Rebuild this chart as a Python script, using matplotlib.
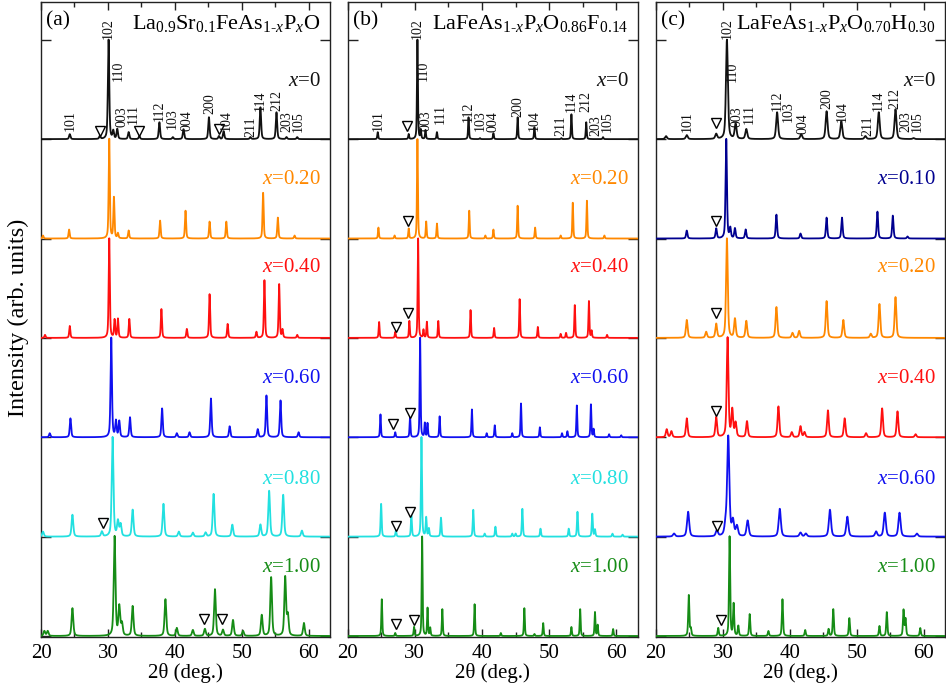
import numpy as np
import matplotlib
matplotlib.use("Agg")
import matplotlib.pyplot as plt
from matplotlib.ticker import MultipleLocator

plt.rcParams['font.family'] = 'serif'
plt.rcParams['font.serif'] = ['Liberation Serif', 'DejaVu Serif']
plt.rcParams['mathtext.fontset'] = 'custom'
plt.rcParams['mathtext.rm'] = 'Liberation Serif'
plt.rcParams['mathtext.it'] = 'Liberation Serif:italic'
plt.rcParams['mathtext.bf'] = 'Liberation Serif:bold'

# ---------------- data ----------------
# Panel (a) La0.9Sr0.1FeAs1-xPxO
a_comps = ['0', '0.20', '0.40', '0.60', '0.80', '1.00']
a_x000_pos = [24.3, 28.8, 30.1, 30.8, 31.4, 33.1, 34.7, 37.7, 39.7, 41.3, 45.1, 46.6, 47.3, 51.3, 52.8, 55.2, 56.7, 58.3]
a_x000_int = [0.05, 0.03, 1.00, 0.08, 0.10, 0.07, 0.03, 0.17, 0.02, 0.10, 0.22, 0.03, 0.08, 0.02, 0.32, 0.27, 0.02, 0.02]
a_x020_pos = [20.3, 24.2, 30.2, 30.9, 31.5, 33.1, 37.8, 41.6, 45.2, 47.7, 53.2, 55.4, 57.9]
a_x020_int = [0.03, 0.09, 1.00, 0.41, 0.05, 0.08, 0.18, 0.28, 0.17, 0.17, 0.46, 0.21, 0.03]
a_x040_pos = [20.6, 24.3, 30.2, 31.0, 31.5, 33.2, 38.0, 41.8, 45.2, 47.9, 52.2, 53.4, 55.6, 56.1, 58.3]
a_x040_int = [0.03, 0.12, 1.00, 0.18, 0.19, 0.19, 0.29, 0.09, 0.44, 0.14, 0.06, 0.58, 0.54, 0.08, 0.03]
a_x060_pos = [21.3, 24.4, 30.5, 31.2, 31.7, 33.3, 38.1, 40.3, 42.2, 45.4, 48.2, 52.4, 53.7, 55.8, 58.5]
a_x060_int = [0.04, 0.19, 1.00, 0.16, 0.16, 0.20, 0.29, 0.04, 0.05, 0.39, 0.11, 0.08, 0.42, 0.37, 0.05]
a_x080_pos = [20.3, 24.7, 29.1, 30.7, 31.5, 31.9, 33.7, 38.3, 40.6, 42.7, 44.6, 45.8, 48.6, 52.8, 54.1, 56.2, 59.0]
a_x080_int = [0.05, 0.22, 0.05, 1.00, 0.15, 0.12, 0.27, 0.33, 0.05, 0.04, 0.04, 0.43, 0.12, 0.12, 0.46, 0.42, 0.06]
a_x100_pos = [20.5, 21.0, 24.7, 31.0, 31.7, 32.1, 33.7, 38.6, 40.3, 42.7, 44.5, 46.0, 47.2, 48.7, 50.2, 53.0, 54.4, 56.5, 56.9, 59.3]
a_x100_int = [0.05, 0.05, 0.28, 1.00, 0.29, 0.12, 0.30, 0.37, 0.08, 0.06, 0.07, 0.47, 0.06, 0.16, 0.05, 0.21, 0.59, 0.59, 0.20, 0.13]
a_hwhm = [0.12, 0.10, 0.10, 0.12, 0.15, 0.15]
a_imp_x = [[28.8, 34.7, 46.6], [], [], [], [29.2], [44.3, 47.1]]
a_imp_y = [[0.08, 0.08, 0.10], [], [], [], [0.14], [0.17, 0.17]]

# Panel (b) LaFeAs1-xPxO0.86F0.14
b_comps = ['0', '0.20', '0.40', '0.60', '0.80', '1.00']
b_x000_pos = [24.5, 29.1, 30.4, 30.9, 31.6, 33.3, 38.0, 39.7, 41.7, 45.3, 47.8, 51.8, 53.3, 55.5, 58.0]
b_x000_int = [0.07, 0.05, 1.00, 0.09, 0.09, 0.07, 0.22, 0.01, 0.06, 0.22, 0.12, 0.01, 0.25, 0.17, 0.02]
b_x020_pos = [24.6, 27.0, 29.1, 30.4, 31.7, 33.3, 38.1, 40.5, 41.7, 45.3, 47.9, 51.7, 53.5, 55.6, 58.2]
b_x020_int = [0.11, 0.03, 0.10, 1.00, 0.17, 0.15, 0.28, 0.03, 0.09, 0.33, 0.11, 0.03, 0.36, 0.38, 0.03]
b_x040_pos = [24.7, 27.1, 29.2, 30.5, 31.3, 31.8, 33.5, 38.3, 41.8, 45.6, 48.3, 51.7, 52.5, 53.8, 55.9, 56.3, 58.6]
b_x040_int = [0.16, 0.06, 0.17, 1.00, 0.08, 0.16, 0.17, 0.28, 0.10, 0.39, 0.11, 0.04, 0.05, 0.33, 0.37, 0.07, 0.03]
b_x060_pos = [24.9, 27.1, 29.3, 30.8, 31.5, 31.9, 33.7, 38.5, 40.7, 41.9, 44.5, 45.8, 48.6, 51.9, 52.7, 54.1, 56.2, 56.6, 58.9, 60.7]
b_x060_int = [0.23, 0.05, 0.21, 1.00, 0.14, 0.14, 0.21, 0.28, 0.04, 0.12, 0.04, 0.34, 0.10, 0.04, 0.06, 0.32, 0.33, 0.08, 0.03, 0.02]
b_x080_pos = [25.0, 27.2, 29.5, 31.0, 31.7, 32.1, 33.9, 38.7, 40.4, 42.0, 44.5, 45.0, 46.0, 48.7, 52.9, 54.2, 56.4, 56.8, 59.4, 60.9]
b_x080_int = [0.33, 0.06, 0.21, 1.00, 0.19, 0.08, 0.19, 0.27, 0.03, 0.10, 0.03, 0.03, 0.28, 0.08, 0.08, 0.25, 0.23, 0.07, 0.03, 0.02]
b_x100_pos = [25.1, 27.1, 29.9, 31.1, 31.9, 32.3, 34.1, 38.9, 42.8, 46.3, 47.8, 49.1, 53.3, 54.6, 56.8, 57.2, 59.5]
b_x100_int = [0.37, 0.03, 0.09, 1.00, 0.28, 0.08, 0.27, 0.32, 0.03, 0.28, 0.02, 0.13, 0.09, 0.27, 0.24, 0.11, 0.07]
b_hwhm = [0.08, 0.08, 0.08, 0.08, 0.09, 0.08]
b_imp_x = [[28.9], [29.0], [27.2, 29.0], [26.8, 29.3], [27.2, 29.3], [27.2, 29.9]]
b_imp_y = [[0.13], [0.18], [0.11, 0.25], [0.13, 0.24], [0.11, 0.25], [0.12, 0.16]]

# Panel (c) LaFeAs1-xPxO0.70H0.30
c_comps = ['0', '0.10', '0.20', '0.40', '0.60', '1.00']
c_x000_pos = [21.5, 24.6, 29.0, 30.6, 31.9, 33.5, 38.1, 41.7, 45.5, 47.7, 51.3, 53.3, 55.8, 58.5]
c_x000_int = [0.03, 0.04, 0.05, 1.00, 0.15, 0.10, 0.27, 0.05, 0.28, 0.18, 0.03, 0.27, 0.30, 0.01]
c_x010_pos = [24.6, 29.0, 30.5, 31.1, 31.8, 33.4, 38.0, 41.6, 45.5, 47.8, 53.1, 55.4, 57.6]
c_x010_int = [0.08, 0.10, 1.00, 0.10, 0.10, 0.09, 0.24, 0.05, 0.21, 0.21, 0.27, 0.23, 0.02]
c_x020_pos = [24.6, 27.5, 29.0, 30.6, 31.8, 33.5, 38.0, 40.4, 41.4, 45.5, 48.0, 52.1, 53.4, 55.8]
c_x020_int = [0.18, 0.06, 0.14, 1.00, 0.19, 0.17, 0.31, 0.05, 0.07, 0.37, 0.18, 0.04, 0.34, 0.41]
c_x040_pos = [21.6, 22.3, 24.6, 29.0, 30.7, 31.4, 31.9, 33.6, 38.3, 40.3, 41.6, 42.2, 45.7, 48.2, 51.4, 53.8, 56.1, 58.8]
c_x040_int = [0.08, 0.06, 0.19, 0.20, 1.00, 0.27, 0.14, 0.16, 0.31, 0.05, 0.11, 0.05, 0.27, 0.19, 0.04, 0.29, 0.26, 0.03]
c_x060_pos = [22.7, 24.8, 29.1, 30.4, 30.8, 31.5, 32.1, 33.7, 38.5, 41.6, 42.4, 46.0, 48.6, 52.9, 54.2, 56.4, 59.0]
c_x060_int = [0.03, 0.25, 0.06, 0.10, 1.00, 0.15, 0.10, 0.16, 0.28, 0.04, 0.03, 0.27, 0.20, 0.05, 0.24, 0.24, 0.03]
c_x100_pos = [24.9, 25.2, 29.3, 31.0, 31.6, 32.3, 34.0, 36.8, 38.9, 42.3, 45.8, 46.5, 48.9, 53.4, 54.5, 57.0, 57.3, 59.5]
c_x100_int = [0.41, 0.07, 0.08, 1.00, 0.32, 0.10, 0.22, 0.05, 0.37, 0.06, 0.07, 0.27, 0.18, 0.10, 0.24, 0.26, 0.17, 0.08]
c_hwhm = [0.17, 0.12, 0.15, 0.15, 0.19, 0.10]
c_imp_x = [[29.0], [29.0], [29.0], [29.0], [29.1], [29.7]]
c_imp_y = [[0.16], [0.18], [0.25], [0.26], [0.11], [0.16]]

# Miller-index labels on the x=0 patterns
hkl_names = ['101', '102', '110', '003', '111', '112', '103', '004', '200', '104', '211', '114', '212', '203', '105']
a_hkl_x = [24.3, 30.1, 31.6, 32.1, 33.8, 37.7, 39.6, 41.8, 45.3, 47.7, 51.3, 52.8, 55.3, 56.7, 58.5]
a_hkl_y = [0.08, 1.01, 0.58, 0.12, 0.15, 0.18, 0.10, 0.08, 0.25, 0.08, 0.02, 0.28, 0.28, 0.07, 0.07]
b_hkl_x = [24.5, 30.4, 31.25, 31.7, 33.8, 38.0, 39.7, 41.7, 45.3, 47.7, 51.8, 53.2, 55.5, 56.9, 58.6]
b_hkl_y = [0.08, 1.01, 0.58, 0.08, 0.15, 0.17, 0.08, 0.07, 0.22, 0.08, 0.03, 0.27, 0.27, 0.03, 0.07]
c_hkl_x = [24.6, 30.6, 31.4, 32.1, 34.0, 38.1, 39.8, 41.9, 45.5, 47.8, 51.6, 53.2, 55.7, 57.3, 59.0]
c_hkl_y = [0.07, 1.01, 0.57, 0.12, 0.15, 0.28, 0.17, 0.05, 0.30, 0.17, 0.03, 0.28, 0.30, 0.07, 0.07]

panel_titles = [r'La$_{0.9}$Sr$_{0.1}$FeAs$_{1\text{-}x}$P$_{x}$O',
                r'LaFeAs$_{1\text{-}x}$P$_{x}$O$_{0.86}$F$_{0.14}$',
                r'LaFeAs$_{1\text{-}x}$P$_{x}$O$_{0.70}$H$_{0.30}$']
panel_letters = ['(a)', '(b)', '(c)']

# ---------------- styles / layout ----------------
BLACK = '#111111'
ORANGE = '#FF8800'
RED = '#FF1010'
BLUE = '#1010F0'
CYAN = '#22E0E0'
GREEN = '#168C16'
NAVY = '#000090'
a_colors = [BLACK, ORANGE, RED, BLUE, CYAN, GREEN]
b_colors = [BLACK, ORANGE, RED, BLUE, CYAN, GREEN]
c_colors = [BLACK, NAVY, ORANGE, RED, BLUE, GREEN]
label_dy = [0.58, 0.59, 0.71, 0.59, 0.57, 0.69]
offsets = [5, 4, 3, 2, 1, 0]
XMIN, XMAX = 20, 63.2
YMIN, YMAX = -0.01, 6.38

panels = [
    dict(rect=[41 / 946, 1 - 637 / 696, 289 / 946, 635 / 696],
         comps=a_comps, colors=a_colors, hwhm=a_hwhm,
         pos=[a_x000_pos, a_x020_pos, a_x040_pos, a_x060_pos, a_x080_pos, a_x100_pos],
         inten=[a_x000_int, a_x020_int, a_x040_int, a_x060_int, a_x080_int, a_x100_int],
         imp_x=a_imp_x, imp_y=a_imp_y, hkl_x=a_hkl_x, hkl_y=a_hkl_y),
    dict(rect=[347.5 / 946, 1 - 637 / 696, 290.5 / 946, 635 / 696],
         comps=b_comps, colors=b_colors, hwhm=b_hwhm,
         pos=[b_x000_pos, b_x020_pos, b_x040_pos, b_x060_pos, b_x080_pos, b_x100_pos],
         inten=[b_x000_int, b_x020_int, b_x040_int, b_x060_int, b_x080_int, b_x100_int],
         imp_x=b_imp_x, imp_y=b_imp_y, hkl_x=b_hkl_x, hkl_y=b_hkl_y),
    dict(rect=[656 / 946, 1 - 637 / 696, 289 / 946, 635 / 696],
         comps=c_comps, colors=c_colors, hwhm=c_hwhm,
         pos=[c_x000_pos, c_x010_pos, c_x020_pos, c_x040_pos, c_x060_pos, c_x100_pos],
         inten=[c_x000_int, c_x010_int, c_x020_int, c_x040_int, c_x060_int, c_x100_int],
         imp_x=c_imp_x, imp_y=c_imp_y, hkl_x=c_hkl_x, hkl_y=c_hkl_y),
]

tt = np.arange(XMIN, XMAX + 0.005, 0.01)


def pattern(x, pos, inten, hw):
    y = np.zeros_like(x)
    for p, h in zip(pos, inten):
        d = (x - p) / hw
        y += h * (0.5 / (1.0 + d ** 2) + 0.5 * np.exp(-np.log(2) * d ** 2))
    return y


fig = plt.figure(figsize=(9.46, 6.96), dpi=100)

for k, P in enumerate(panels):
    ax = fig.add_axes(P['rect'])
    for i in range(6):
        y = pattern(tt, P['pos'][i], P['inten'][i], P['hwhm'][i]) + offsets[i]
        ax.plot(tt, y, color=P['colors'][i], lw=1.3, zorder=3)
        ax.text(61.85, offsets[i] + label_dy[i], r'$x$=' + P['comps'][i],
                color=P['colors'][i], fontsize=15, ha='right', va='center')
        if P['imp_x'][i]:
            ax.plot(P['imp_x'][i], np.array(P['imp_y'][i]) + offsets[i], 'v',
                    mfc='white', mec='black', ms=6.5, mew=1.0, zorder=4)
    for name, hx, hy in zip(hkl_names, P['hkl_x'], P['hkl_y']):
        ax.text(hx, offsets[0] + hy, name, rotation=90, ha='center', va='bottom',
                fontsize=10, color='#111111', zorder=5)
    ax.text(20.75, 6.19, panel_letters[k], fontsize=15.5, ha='left', va='center')
    ax.text(61.75, 6.105, panel_titles[k], fontsize=16, ha='right', va='baseline')

    ax.set_xlim(XMIN, XMAX)
    ax.set_ylim(YMIN, YMAX)
    ax.xaxis.set_major_locator(MultipleLocator(10))
    ax.xaxis.set_minor_locator(MultipleLocator(5))
    ax.set_yticks(range(0, 7))
    ax.set_yticklabels([])
    ax.tick_params(axis='x', which='major', direction='in', top=True, bottom=True,
                   length=6, width=1.0, labelsize=15, pad=5, color='#222222')
    ax.tick_params(axis='x', which='minor', direction='in', top=True, bottom=True,
                   length=3.5, width=1.0, color='#222222')
    ax.tick_params(axis='y', which='major', direction='in', left=True, right=True,
                   length=7, width=1.0, color='#222222')
    for s in ax.spines.values():
        s.set_linewidth(1.0)
        s.set_color('#222222')
    ax.set_xlabel('2θ (deg.)', fontsize=15, labelpad=0)

fig.text(0.019, 0.543, 'Intensity (arb. units)', rotation=90, fontsize=17.5,
         ha='center', va='center')

fig.savefig('out.png', dpi=100)
